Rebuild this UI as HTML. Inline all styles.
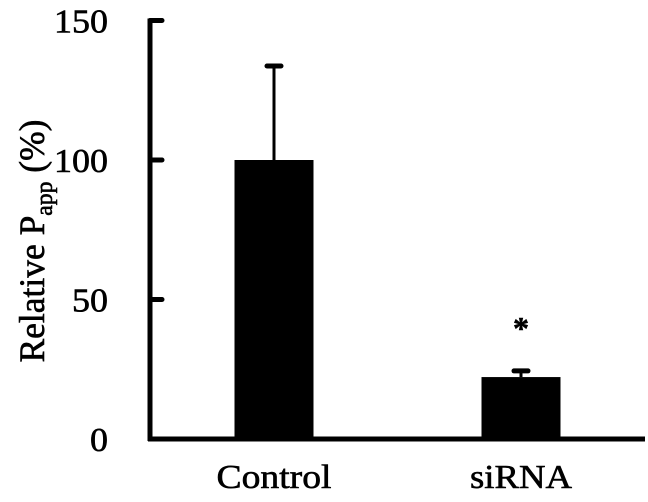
<!DOCTYPE html>
<html><head><meta charset="utf-8"><style>
body{margin:0;background:#fff}
svg{display:block}
text{font-family:"Liberation Serif",serif;fill:#000;stroke:#000;stroke-width:0.6px}
</style></head><body>
<svg id="chart" width="648" height="502" viewBox="0 0 648 502" xmlns="http://www.w3.org/2000/svg">
<g id="g"></g>
</svg>
<script>
const categories = ["Control", "siRNA"];
const values = [100, 22.2];
const errors = [33.7, 2.2];
const yTicks = [0, 50, 100, 150];
const sig = ["", "*"];

const NS = "http://www.w3.org/2000/svg";
const g = document.getElementById("g");
const y0 = 439, pxPer = 2.79;
function y(v){ return y0 - v * pxPer; }
const centers = [274, 521];
function xc(i){ return centers[0] + i * (centers[1] - centers[0]); }
const barW = 79;
function el(tag, attrs, txt){
  const e = document.createElementNS(NS, tag);
  for (const k in attrs) e.setAttribute(k, attrs[k]);
  if (txt !== undefined) e.textContent = txt;
  g.appendChild(e);
  return e;
}
let a = el("line",{x1:150,y1:y(150)-2,x2:150,y2:y0+2,stroke:"#000","stroke-width":5});


a = el("line",{x1:148,y1:y0,x2:645,y2:y0,stroke:"#000","stroke-width":5});


yTicks.forEach(t => {
  const tk = el("line",{x1:150,y1:y(t),x2:162,y2:y(t),stroke:"#000","stroke-width":5,"stroke-linecap":"round"});
  
  
  const s = String(t);
  const lb = el("text",{x:108,y:y(t)+12,"text-anchor":"end","font-size":34,textLength:18*s.length,lengthAdjust:"spacingAndGlyphs"}, s);
  
  
});
const catLen = [115, 102];
categories.forEach((c, i) => {
  const cx = xc(i);
  const top = y(values[i] + errors[i]);
  const eb = el("line",{x1:cx,y1:top,x2:cx,y2:y(values[i]),stroke:"#000","stroke-width":3});
  
  
  const cap = el("line",{x1:cx-7,y1:top,x2:cx+7,y2:top,stroke:"#000","stroke-width":5,"stroke-linecap":"round"});
  
  
  const b = el("rect",{x:cx-barW/2,y:y(values[i]),width:barW,height:y0-y(values[i]),fill:"#000"});
  
  
  const lb = el("text",{x:cx,y:488,"text-anchor":"middle","font-size":34,textLength:catLen[i],lengthAdjust:"spacingAndGlyphs"}, c);
  
  
  if (sig[i]) {
    const s = el("text",{x:cx,y:y(values[i]+errors[i])-32,"text-anchor":"middle","font-size":32,"font-weight":"bold"}, sig[i]);
    
    
  }
});
const t = el("text",{transform:"translate(44,241) rotate(-90)","text-anchor":"middle","font-size":36,textLength:243,lengthAdjust:"spacingAndGlyphs"});


t.innerHTML = 'Relative P<tspan font-size="24" dy="8">app</tspan><tspan dy="-8"> (%)</tspan>';
</script>
</body></html>
